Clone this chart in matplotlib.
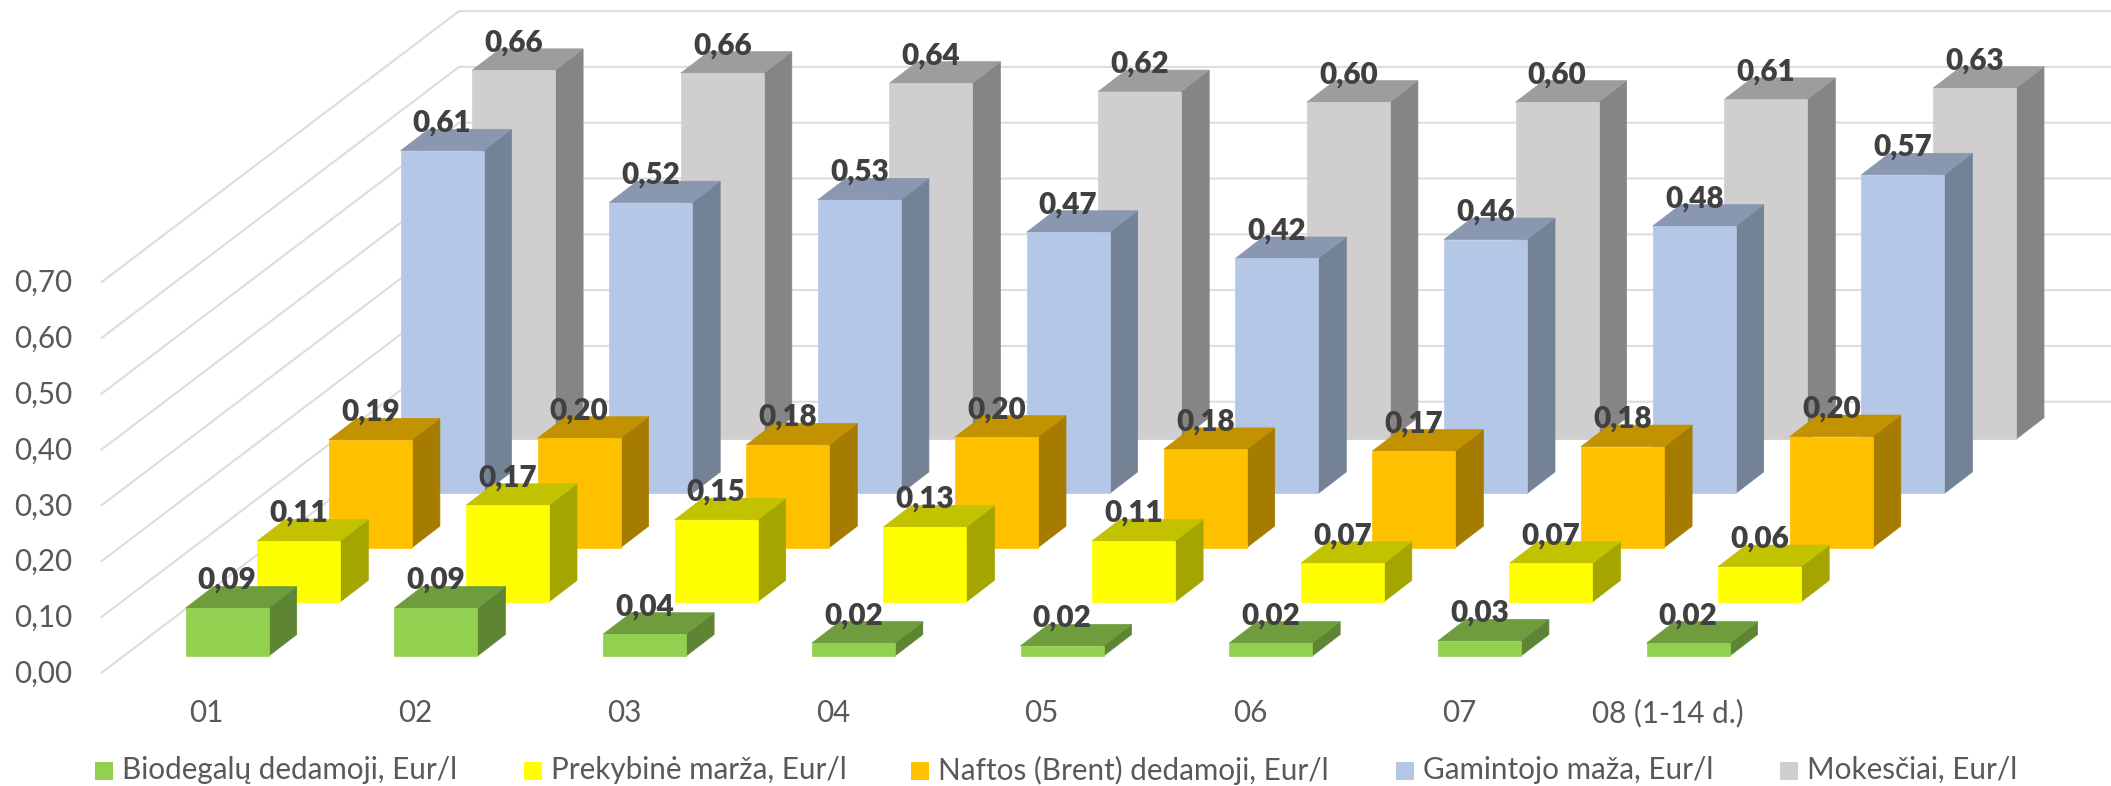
import matplotlib

matplotlib.use('Agg')
import matplotlib.pyplot as plt

plt.rcParams['font.family'] = ['Lato', 'Open Sans', 'DejaVu Sans']

# data
months = ['01', '02', '03', '04', '05', '06', '07', '08 (1-14 d.)']
y_ticks = [0.0, 0.1, 0.2, 0.3, 0.4, 0.5, 0.6, 0.7]
biodegalai = [0.086, 0.086, 0.039, 0.023, 0.018, 0.023, 0.027, 0.023]
marza = [0.109, 0.173, 0.147, 0.134, 0.109, 0.069, 0.069, 0.063]
nafta = [0.193, 0.196, 0.184, 0.198, 0.176, 0.173, 0.181, 0.199]
gamintojo = [0.614, 0.521, 0.526, 0.468, 0.421, 0.455, 0.479, 0.571]
mokesciai = [0.661, 0.656, 0.638, 0.623, 0.604, 0.604, 0.609, 0.629]
names = ['Biodegalų dedamoji, Eur/l', 'Prekybinė marža, Eur/l', 'Naftos (Brent) dedamoji, Eur/l',
         'Gamintojo maža, Eur/l', 'Mokesčiai, Eur/l']

# front, top, side colours
colors = [('#92D050', '#6F9D3D', '#5E8533'),
          ('#FFFF00', '#C2C200', '#A5A500'),
          ('#FFC000', '#C29200', '#A67C00'),
          ('#B4C7E7', '#8997B0', '#748296'),
          ('#D0CECE', '#9E9C9C', '#868484')]

# layout in pixels, the chart is a fake 3d one
X0, Y0 = 185.7, 656  # front left corner of first green bar
CAT_STEP = 208.7
ROW_DX, ROW_DY = 71.6, -54.2
BAR_W = 83
DEPTH_DX, DEPTH_DY = 28, -21.5
PX_PER_UNIT = 558
GRID_X0, GRID_Y0 = 101.6, 672.7
GRID_X1, GRID_DY = 459, -271
LEGEND_X = [95, 524, 911, 1396, 1780]

fig = plt.figure(figsize=(21.11, 7.86), dpi=100)
ax = fig.add_axes((0, 0, 1, 1))
ax.set_xlim(0, 2111)
ax.set_ylim(786, 0)
ax.axis('off')


def draw_bar(col, row, value, cols):
    x = X0 + col * CAT_STEP + row * ROW_DX
    base = Y0 + row * ROW_DY
    top = base - value * PX_PER_UNIT
    r = x + BAR_W
    ax.fill([r, r + DEPTH_DX, r + DEPTH_DX, r], [base, base + DEPTH_DY, top + DEPTH_DY, top],
            color=cols[2], lw=0.5, zorder=3)
    ax.fill([x, r, r + DEPTH_DX, x + DEPTH_DX], [top, top, top + DEPTH_DY, top + DEPTH_DY],
            color=cols[1], lw=0.5, zorder=3)
    ax.fill([x, r, r, x], [base, base, top, top], color=cols[0], lw=0.5, zorder=3)
    return x + BAR_W / 2, top


# gridlines, side wall and back wall
for t in y_ticks:
    y = GRID_Y0 - t * PX_PER_UNIT
    ax.plot([GRID_X0, GRID_X1, 2111], [y, y + GRID_DY, y + GRID_DY], color='#DDDDDD', lw=1.5, zorder=1)
    ax.text(72, y + 1, '{0:.2f}'.format(t).replace('.', ','), ha='right', va='center', fontsize=21.3, color='#595959')

# back row first so the front rows cover it
series = [biodegalai, marza, nafta, gamintojo, mokesciai]
for row in range(len(series) - 1, -1, -1):
    for col, v in enumerate(series[row]):
        cx, top = draw_bar(col, row, v, colors[row])
        ax.text(cx, top - 28, '{0:.2f}'.format(v).replace('.', ','), ha='center', va='center',
                fontsize=21.3, fontweight='heavy', color='#404040', zorder=4)

for col, m in enumerate(months):
    ax.text(X0 + 21 + col * CAT_STEP, 713, m, ha='center', va='center', fontsize=21.3, color='#595959')

for i, n in enumerate(names):
    ax.add_patch(plt.Rectangle((LEGEND_X[i], 762), 18, 18, color=colors[i][0], lw=0))
    ax.text(LEGEND_X[i] + 27, 770, n, ha='left', va='center', fontsize=21.3, color='#595959')

plt.savefig('out.png', dpi=100)
